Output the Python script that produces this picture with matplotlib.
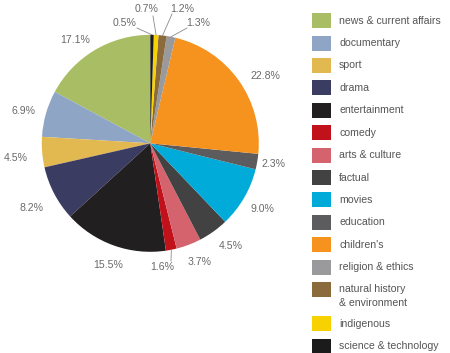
import matplotlib
matplotlib.use("Agg")
import matplotlib.pyplot as plt
from matplotlib.patches import Rectangle
import numpy as np

categories = ["news & current affairs", "documentary", "sport", "drama",
              "entertainment", "comedy", "arts & culture", "factual", "movies",
              "education", "children's", "religion & ethics",
              "natural history\n& environment", "indigenous", "science & technology"]
values = [17.1, 6.9, 4.5, 8.2, 15.5, 1.6, 3.7, 4.5, 9.0, 2.3, 22.8, 1.3, 1.2, 0.7, 0.5]
colors = ["#a9be64", "#8fa5c5", "#e2b851", "#3b3c62", "#221f20", "#c1121c",
          "#d4636d", "#424242", "#00abd9", "#5c5c5e", "#f6921e", "#9a9a9c",
          "#8b6a3c", "#f8d100", "#1b1b1b"]

W, H = 450, 353
fig = plt.figure(figsize=(W / 100, H / 100), dpi=100)
ax = fig.add_axes([0, 0, 1, 1])

cx, cy, R = 150.3, H - 143.3, 108.5
wedges, _ = ax.pie(values, colors=colors, startangle=90, counterclock=True,
                   radius=R, center=(cx, cy), wedgeprops=dict(linewidth=0))
ax.set_xlim(0, W)
ax.set_ylim(0, H)
ax.set_aspect("equal")
ax.set_axis_off()

font = ["Liberation Sans", "DejaVu Sans"]
lab_color = "#6a6a6a"
# label placements (top-origin pixel coords), as laid out in the original
label_pos = [(75, 40), (24, 111), (16, 158), (31, 208), (108, 265), (162, 267),
             (200, 262), (231, 246), (262, 209), (274, 164), (265, 76),
             (198, 23), (182, 9), (147, 9), (125, 23)]
# leader-line start points for the crowded small slices
leaders = {14: (137, 28), 13: (153, 16), 12: (172, 14), 11: (187, 28), 5: (171, 261)}

for i, (w, v) in enumerate(zip(wedges, values)):
    mid = np.deg2rad((w.theta1 + w.theta2) / 2)
    lx, ly = label_pos[i]
    if i in leaders:
        sx, sy = leaders[i]
        ex, ey = cx + R * np.cos(mid), cy + R * np.sin(mid)
        ax.plot([sx, ex], [H - sy, ey], color="#8a8a8a", lw=0.6)
    ax.text(lx, H - ly, f"{v:.1f}%", ha="center", va="center", fontsize=7.6,
            color=lab_color, family=font)

# legend
y = 20.7
for cat, col in zip(categories, colors):
    ax.add_patch(Rectangle((312, H - y - 7.5), 19, 15, color=col, lw=0))
    for j, line in enumerate(cat.split("\n")):
        ax.text(339, H - (y + j * 14), line, ha="left", va="center",
                fontsize=7.6, color="#555555", family=font)
    y += 22.4 + 12 * (cat.count("\n"))

fig.savefig("out.png", dpi=100)
